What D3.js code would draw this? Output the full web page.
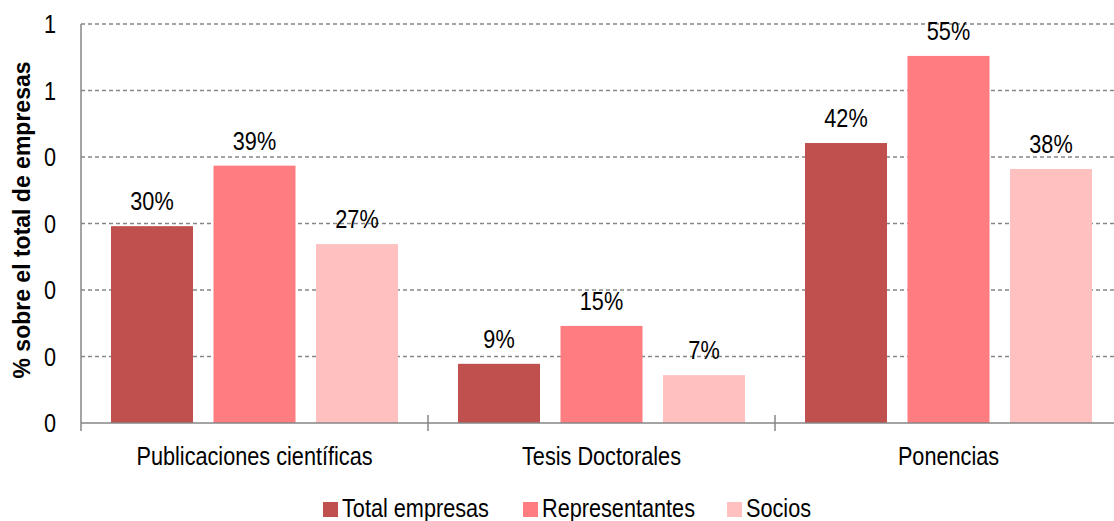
<!DOCTYPE html>
<html>
<head>
<meta charset="utf-8">
<script src="https://cdn.jsdelivr.net/npm/d3@7"></script>
<style>
  body { margin: 0; background: #fff; }
  text { font-family: "Liberation Sans", Arial, sans-serif; }
</style>
</head>
<body>
<div class="canvas"></div>
<script>
const categories = ["Publicaciones científicas", "Tesis Doctorales", "Ponencias"];
const seriesNames = ["Total empresas", "Representantes", "Socios"];
const totalEmpresas = [0.296, 0.089, 0.421];
const representantes = [0.387, 0.146, 0.552];
const socios = [0.269, 0.072, 0.382];
const yTicks = [0, 0.1, 0.2, 0.3, 0.4, 0.5, 0.6];
const yTickLabels = ["0", "0", "0", "0", "0", "1", "1"];

const colors = ["#C0504D", "#FF7C80", "#FFC0C0"];
const seriesValues = [totalEmpresas, representantes, socios];

const width = 1114;
const height = 521;
const fontSize = 25.5;
const squeeze = 0.85; // the original uses a narrow font

const svg = d3
  .select(".canvas")
  .append("svg")
  .attr("width", width)
  .attr("height", height);

// narrow text helper
function narrowText(sel, x, y) {
  return sel
    .attr("transform", (d, i) => {
      const xx = typeof x === "function" ? x(d, i) : x;
      const yy = typeof y === "function" ? y(d, i) : y;
      return `translate(${xx},${yy}) scale(${squeeze},1)`;
    })
    .attr("font-size", fontSize)
    .attr("fill", "#000");
}

// scales
const xScale = d3.scaleBand().domain(categories).range([81, 1122]).padding(0);
const groupWidth = xScale.bandwidth();
const innerScale = d3
  .scaleBand()
  .domain(seriesNames)
  .range([30, groupWidth - 30])
  .paddingInner(0.2)
  .paddingOuter(0);
const yScale = d3.scaleLinear().domain([0, 0.6]).range([423, 24]);

const axisColor = "#868686";

// gridlines
svg
  .append("g")
  .selectAll("line")
  .data(yTicks.slice(1))
  .enter()
  .append("line")
  .attr("x1", 81)
  .attr("x2", width)
  .attr("y1", (d) => yScale(d))
  .attr("y2", (d) => yScale(d))
  .attr("stroke", axisColor)
  .attr("stroke-width", 1.3)
  .attr("stroke-dasharray", "4,3");

// y tick labels
svg
  .append("g")
  .selectAll("text")
  .data(yTicks)
  .enter()
  .append("text")
  .call(narrowText, 56, (d) => yScale(d))
  .attr("dy", "0.36em")
  .attr("text-anchor", "end")
  .text((d, i) => yTickLabels[i]);

// bars
const groups = svg
  .append("g")
  .selectAll("g")
  .data(categories)
  .enter()
  .append("g")
  .attr("transform", (d) => `translate(${xScale(d)},0)`);

groups.each(function (cat, ci) {
  const g = d3.select(this);
  seriesNames.forEach((s, si) => {
    const v = seriesValues[si][ci];
    g.append("rect")
      .attr("x", innerScale(s))
      .attr("y", yScale(v))
      .attr("width", innerScale.bandwidth())
      .attr("height", yScale(0) - yScale(v))
      .attr("fill", colors[si]);
    g.append("text")
      .call(narrowText, innerScale(s) + innerScale.bandwidth() / 2, yScale(v) - 16)
      .attr("text-anchor", "middle")
      .text(Math.round(v * 100) + "%");
  });
});

// axes lines
svg
  .append("line")
  .attr("x1", 81)
  .attr("x2", 81)
  .attr("y1", 24)
  .attr("y2", 431)
  .attr("stroke", axisColor)
  .attr("stroke-width", 1.5);

svg
  .append("line")
  .attr("x1", 81)
  .attr("x2", width)
  .attr("y1", 423)
  .attr("y2", 423)
  .attr("stroke", axisColor)
  .attr("stroke-width", 1.5);

svg
  .append("g")
  .selectAll("line")
  .data(categories.slice(1))
  .enter()
  .append("line")
  .attr("x1", (d) => xScale(d))
  .attr("x2", (d) => xScale(d))
  .attr("y1", 415)
  .attr("y2", 431)
  .attr("stroke", axisColor)
  .attr("stroke-width", 1.5);

// category labels
svg
  .append("g")
  .selectAll("text")
  .data(categories)
  .enter()
  .append("text")
  .call(narrowText, (d) => xScale(d) + groupWidth / 2, 465)
  .attr("text-anchor", "middle")
  .text((d) => d);

// y axis title
svg
  .append("text")
  .attr("transform", "translate(30,220) rotate(-90)")
  .attr("text-anchor", "middle")
  .attr("font-size", 23)
  .attr("font-weight", "bold")
  .attr("fill", "#000")
  .text("% sobre el total de empresas");

// legend
const legendX = [323, 523, 727];
const legend = svg
  .append("g")
  .selectAll("g")
  .data(seriesNames)
  .enter()
  .append("g")
  .attr("transform", (d, i) => `translate(${legendX[i]},502)`);

legend
  .append("rect")
  .attr("width", 15)
  .attr("height", 15)
  .attr("fill", (d, i) => colors[i]);

legend
  .append("text")
  .call(narrowText, 19, 14.5)
  .text((d) => d);
</script>
</body>
</html>
